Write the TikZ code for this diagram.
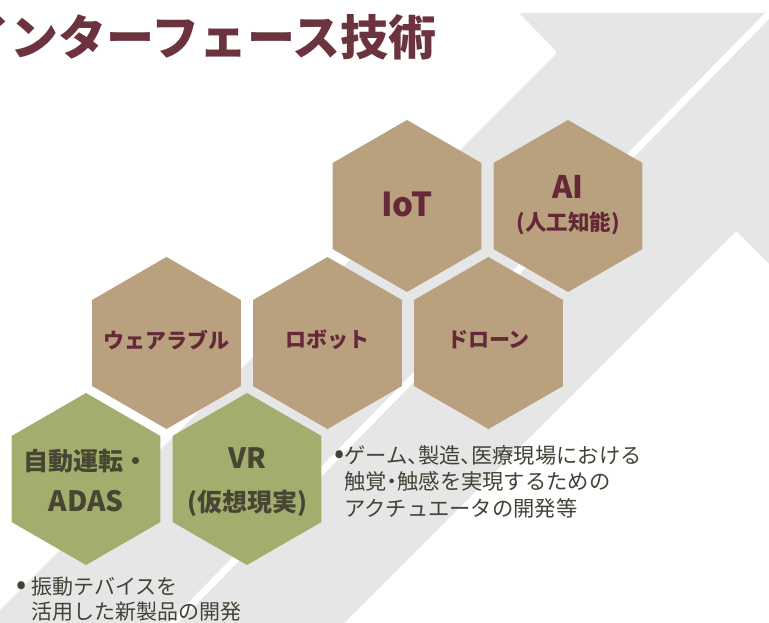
\documentclass[tikz,border=0pt]{standalone}
\usepackage{fontspec}
\usetikzlibrary{shapes.geometric}
\newfontfamily\jp{Noto Sans CJK JP}
\newcommand\hw[1]{{\addfontfeature{RawFeature=+halt}#1}}
\newcommand\bigdot{{\fontsize{30}{20}\selectfont •}}
\definecolor{arrowgray}{RGB}{230,230,230}
\definecolor{hextan}{RGB}{185,160,126}
\definecolor{hexgreen}{RGB}{163,174,110}
\definecolor{textmaroon}{RGB}{100,40,55}
\definecolor{titlemaroon}{RGB}{107,51,62}
\definecolor{textolive}{RGB}{70,70,50}
\definecolor{textgray}{RGB}{66,66,54}
\begin{document}
\begin{tikzpicture}[x=1pt,y=-1pt,
  hexbase/.style={regular polygon, regular polygon sides=6, shape border rotate=30,
    minimum size=172pt, inner sep=0pt, outer sep=0pt, draw=none},
  tanhex/.style={hexbase, fill=hextan},
  greenhex/.style={hexbase, fill=hexgreen},
  tanlabel/.style={text=textmaroon, inner sep=0pt},
  greenlabel/.style={text=textolive, inner sep=0pt},
  bullettext/.style={text=textgray, font=\jp\fontsize{21.3}{26.5}\selectfont,
    align=left, inner sep=0pt, anchor=west}]
\useasboundingbox (0,0) rectangle (769,623);
\clip (0,0) rectangle (769,623);
% background arrow
\fill[arrowgray, rounded corners=2.5pt] (773,13) -- (519,13) -- (557.5,52.5)
  -- (-100,710) -- (257,710) -- (736,231) -- (773,268) -- cycle;
\draw[white, line width=7pt] (782.6,0) -- (98,700);
% hexagons
\node[tanhex] (iot) at (407,206) {};
\node[tanhex] (ai) at (568,206) {};
\node[tanhex] (wear) at (166.5,343) {};
\node[tanhex] (robot) at (327.5,343) {};
\node[tanhex] (drone) at (488.5,343) {};
\node[greenhex] (adas) at (86,479) {};
\node[greenhex] (vr) at (247,479) {};
% labels
\node[tanlabel, font=\jp\bfseries\fontsize{33}{33}\selectfont, yshift=1.5pt] (iott) at (iot) {IoT};
\node[tanlabel, font=\jp\bfseries\fontsize{31}{31}\selectfont, yshift=19.5pt] (ait) at (ai) {AI};
\node[tanlabel, font=\jp\bfseries\fontsize{21.5}{21}\selectfont, yshift=-17.5pt] (aisub) at (ai) {(人工知能)};
\node[tanlabel, font=\jp\bfseries\fontsize{21}{21}\selectfont, yshift=3pt] (weart) at (wear) {ウェアラブル};
\node[tanlabel, font=\jp\bfseries\fontsize{21}{21}\selectfont, yshift=3pt] (robott) at (robot) {ロボット};
\node[tanlabel, font=\jp\bfseries\fontsize{21}{21}\selectfont, yshift=3pt] (dronet) at (drone) {ドローン};
\node[greenlabel, font=\jp\bfseries\fontsize{25}{25}\selectfont, yshift=18pt] (adast) at (adas) {自動運転・};
\node[greenlabel, font=\jp\bfseries\fontsize{28}{28}\selectfont, yshift=-22pt] (adassub) at (adas) {ADAS};
\node[greenlabel, font=\jp\bfseries\fontsize{28}{28}\selectfont, yshift=21pt] (vrt) at (vr) {VR};
\node[greenlabel, font=\jp\bfseries\fontsize{25}{25}\selectfont, yshift=-24pt] (vrsub) at (vr) {(仮想現実)};
% title
\node[anchor=west, text=titlemaroon, font=\jp\bfseries\fontsize{48}{48}\selectfont, inner sep=0pt] (title) at (-38,37) {インターフェース技術};
% bullet notes
\node[bullettext] (note1) at (344,481.5) {\llap{\bigdot\kern0pt}ゲーム\hw{、}製造\hw{、}医療現場における\\触覚\hw{・}触感を実現するための\\アクチュエータの開発等};
\node[bullettext, font=\jp\fontsize{21}{25}\selectfont] (note2) at (31,599.5) {\llap{\bigdot\kern5pt}振動テバイスを\\活用した新製品の開発};
\end{tikzpicture}
\end{document}
